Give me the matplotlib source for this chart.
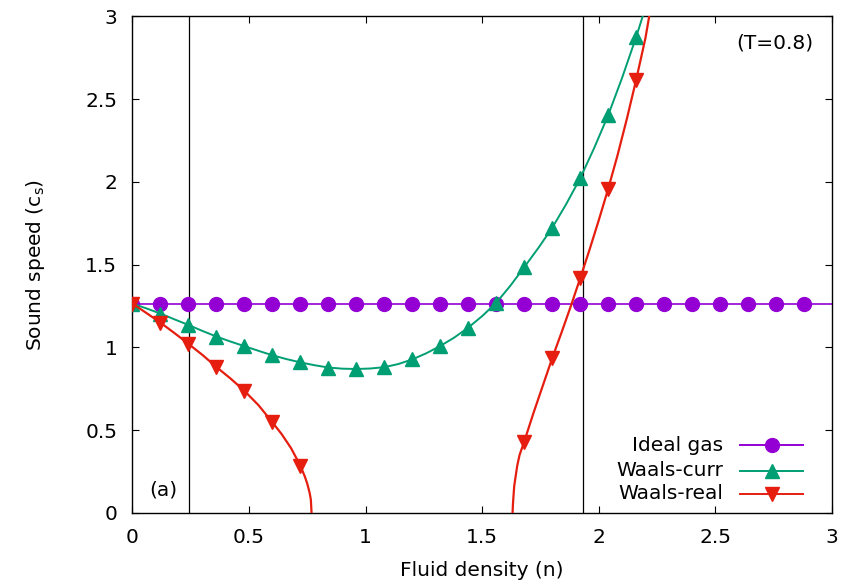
import matplotlib
matplotlib.use('Agg')
import matplotlib.pyplot as plt

plt.rcParams['font.family'] = ['DejaVu Sans']
plt.rcParams['mathtext.fontset'] = 'dejavusans'

# density grid where the symbols sit (every 0.12)
marker_n = [round(0.12 * i, 2) for i in range(25)]

# ideal gas: constant sound speed
ideal_c = [1.265] * len(marker_n)
ideal_line_n = [0.0, 3.0]
ideal_line_c = [1.265, 1.265]

# van der Waals, "current" model
curr_n = [0.0, 0.06, 0.12, 0.18, 0.24, 0.30, 0.36, 0.42, 0.48, 0.54, 0.60,
          0.66, 0.72, 0.78, 0.84, 0.90, 0.96, 1.02, 1.08, 1.14, 1.20, 1.26,
          1.32, 1.38, 1.44, 1.50, 1.56, 1.62, 1.68, 1.74, 1.80, 1.86, 1.92,
          1.98, 2.04, 2.10, 2.16, 2.188]
curr_c = [1.265, 1.236, 1.205, 1.170, 1.136, 1.100, 1.066, 1.036, 1.008,
          0.980, 0.953, 0.930, 0.910, 0.893, 0.879, 0.872, 0.870, 0.873,
          0.881, 0.900, 0.928, 0.965, 1.009, 1.060, 1.120, 1.190, 1.270,
          1.372, 1.485, 1.600, 1.723, 1.866, 2.022, 2.205, 2.403, 2.630,
          2.875, 3.0]
curr_mark_n = marker_n[:19]
curr_mark_c = [1.265, 1.205, 1.136, 1.066, 1.008, 0.953, 0.910, 0.879, 0.870,
               0.881, 0.928, 1.009, 1.120, 1.270, 1.485, 1.723, 2.022, 2.403,
               2.875]

# van der Waals, "real" model: two branches around the unstable gap
real_lo_n = [0.0, 0.06, 0.12, 0.18, 0.24, 0.30, 0.36, 0.42, 0.48, 0.54, 0.60,
             0.64, 0.68, 0.72, 0.74, 0.75, 0.76, 0.765, 0.768]
real_lo_c = [1.265, 1.208, 1.150, 1.087, 1.022, 0.955, 0.882, 0.813, 0.738,
             0.652, 0.548, 0.476, 0.392, 0.286, 0.217, 0.175, 0.120, 0.080,
             0.0]
real_hi_n = [1.630, 1.632, 1.637, 1.64, 1.65, 1.66, 1.68, 1.72, 1.76, 1.80,
             1.84, 1.88, 1.92, 1.96, 2.00, 2.04, 2.08, 2.12, 2.16, 2.20, 2.216]
real_hi_c = [0.0, 0.06, 0.16, 0.19, 0.285, 0.35, 0.431, 0.605, 0.77, 0.935,
             1.09, 1.25, 1.418, 1.59, 1.77, 1.958, 2.16, 2.38, 2.616, 2.87, 3.0]
real_mark_n = marker_n[:7] + marker_n[14:19]
real_mark_c = [1.265, 1.150, 1.022, 0.882, 0.738, 0.548, 0.286,
               0.431, 0.935, 1.418, 1.958, 2.616]

# vertical reference densities
ref_n = [0.241, 1.932]

purple = '#9400d3'
green = '#009e73'
red = '#e51e10'
fs = 14.5

fig = plt.figure(figsize=(8.52, 5.87), dpi=100)
ax = fig.add_axes([0.1555, 0.1261, 0.8210, 0.8458])

for n in ref_n:
    ax.axvline(n, color='black', lw=0.9, zorder=1)

ax.plot(ideal_line_n, ideal_line_c, color=purple, lw=1.2, zorder=2)
ax.plot(marker_n, ideal_c, 'o', color=purple, ms=10, zorder=3)

ax.plot(curr_n, curr_c, color=green, lw=1.4, zorder=4)
ax.plot(curr_mark_n, curr_mark_c, '^', color=green, ms=10, zorder=5)

ax.plot(real_lo_n, real_lo_c, color=red, lw=1.6, zorder=6)
ax.plot(real_hi_n, real_hi_c, color=red, lw=1.6, zorder=6)
ax.plot(real_mark_n, real_mark_c, 'v', color=red, ms=10, zorder=7)

ax.set_xlim(0, 3)
ax.set_ylim(0, 3)
ticks = [0, 0.5, 1, 1.5, 2, 2.5, 3]
tick_labels = ['0', '0.5', '1', '1.5', '2', '2.5', '3']
ax.set_xticks(ticks)
ax.set_xticklabels(tick_labels)
ax.set_yticks(ticks)
ax.set_yticklabels(tick_labels)
ax.tick_params(direction='in', length=5, width=0.8, top=True, right=True,
               labelsize=fs, pad=11)
for sp in ax.spines.values():
    sp.set_linewidth(1.0)

ax.set_xlabel('Fluid density (n)', fontsize=fs)
ax.set_ylabel('Sound speed (c$_\\mathrm{s}$)', fontsize=fs)
ax.xaxis.set_label_coords(0.5, -0.115)
ax.xaxis.label.set_va('center')
ax.yaxis.set_label_coords(-0.139, 0.5)
ax.yaxis.label.set_va('center')

ax.text(0.973, 0.946, '(T=0.8)', transform=ax.transAxes, ha='right',
        va='center', fontsize=fs)
ax.text(0.131, 0.139, '(a)', fontsize=fs, ha='center', va='center')

# legend drawn by hand so the labels are right-aligned like gnuplot
entries = [('Ideal gas', purple, 'o', 0.1364),
           ('Waals-curr', green, '^', 0.0852),
           ('Waals-real', red, 'v', 0.0383)]
for label, col, mk, yy in entries:
    ax.text(0.8446, yy, label, transform=ax.transAxes, ha='right',
            va='center', fontsize=fs)
    ax.plot([0.869, 0.959], [yy, yy], color=col, lw=1.4,
            transform=ax.transAxes, clip_on=False)
    ax.plot([0.914], [yy], mk, color=col, ms=10,
            transform=ax.transAxes, clip_on=False)

fig.savefig('out.png', dpi=100)
